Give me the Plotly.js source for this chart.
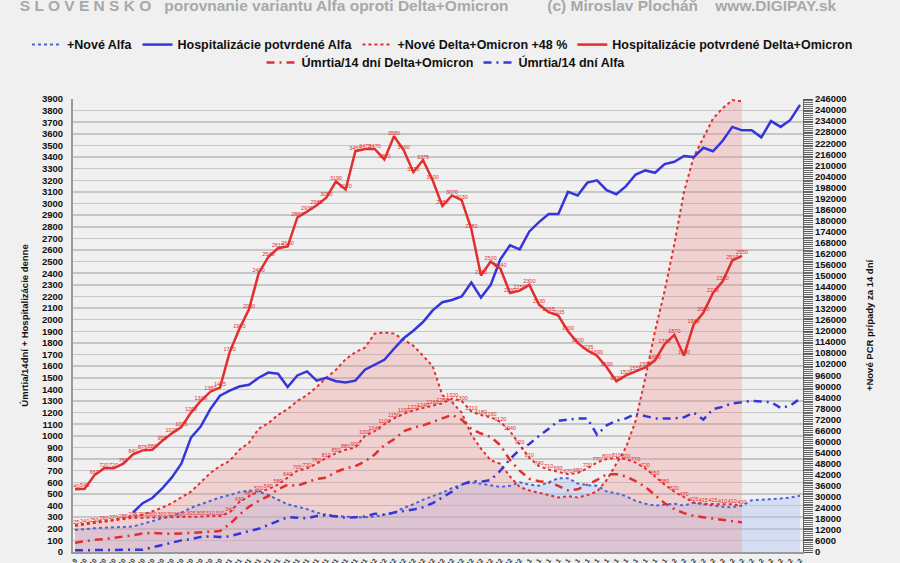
<!DOCTYPE html>
<html>
<head>
<meta charset="utf-8">
<script src="https://cdn.plot.ly/plotly-3.0.1.min.js"></script>
<style>html,body{margin:0;padding:0;background:#f0f0f0;}#chart{width:900px;height:563px;}</style>
</head>
<body>
<div id="chart"></div>
<script>
// Category labels (dates, 2-day steps)
const categories = ["30.9","2.10","4.10","6.10","8.10","10.10","12.10","14.10","16.10","18.10",
"20.10","22.10","24.10","26.10","28.10","30.10","1.11","3.11","5.11","7.11",
"9.11","11.11","13.11","15.11","17.11","19.11","21.11","23.11","25.11","27.11",
"29.11","1.12","3.12","5.12","7.12","9.12","11.12","13.12","15.12","17.12",
"19.12","21.12","23.12","25.12","27.12","29.12","31.12","2.1","4.1","6.1",
"8.1","10.1","12.1","14.1","16.1","18.1","20.1","22.1","24.1","26.1",
"28.1","30.1","1.2","3.2","5.2","7.2","9.2","11.2","13.2","15.2",
"17.2","19.2","21.2","23.2","25.2","27.2"];

// +Nové Alfa (PCR cases per 14 days, right axis)
const noveAlfa = [12000,12600,12900,13200,13200,13600,13900,15100,16700,18300,
19600,21400,24000,25900,27800,29600,30900,32500,33400,32800,
30900,28400,25900,24600,23300,21400,20200,19600,19200,18900,
18900,19200,20200,21400,24000,25900,28400,30300,32200,34700,
36600,37800,37200,36300,35300,36000,37800,36600,36000,37800,
40100,40100,37200,36300,36000,32800,31900,30300,27800,26200,
25200,25900,26200,25200,26800,25900,25200,24600,24300,25200,
28100,28400,28400,29000,29600,30600];

// Hospitalizácie potvrdené Alfa (left axis)
const hospAlfa = [null,null,null,null,null,null,340,420,465,545,
640,760,985,1080,1230,1345,1390,1425,1440,1500,
1545,1535,1420,1520,1555,1475,1500,1470,1460,1475,
1570,1610,1655,1750,1840,1905,1980,2080,2150,2170,
2200,2320,2190,2300,2520,2640,2605,2760,2840,2910,
2910,3100,3070,3180,3200,3115,3080,3150,3250,3285,
3265,3340,3360,3410,3400,3480,3450,3540,3660,3630,
3630,3570,3710,3660,3720,3850];

// +Nové Delta+Omicron +48 % (PCR cases per 14 days, right axis)
const noveDO = [14500,15500,16400,17000,17700,18300,19600,20200,22100,24000,
26500,29600,32800,37800,42900,46700,49500,55500,59300,66900,
70000,74400,77600,82000,85200,89600,94600,99000,104700,108500,
111000,118600,119200,118600,115400,112000,106600,100900,85200,81400,
75700,63700,56100,49800,47900,41000,35300,33400,32200,30900,
29600,30300,29600,30900,32800,39100,47900,56800,71300,94600,
119900,141900,167200,195500,214500,224600,235300,241000,245400,244700];

// Hospitalizácie potvrdené Delta+Omicron (left axis)
const hospDO = [540,545,660,720,720,760,840,875,880,955,
1020,1075,1200,1300,1380,1415,1720,1920,2090,2400,
2540,2615,2630,2880,2930,2985,3050,3190,3120,3450,
3470,3470,3380,3580,3460,3270,3375,3200,2980,3070,
3030,2780,2380,2500,2440,2230,2250,2300,2130,2065,
2035,1900,1800,1735,1690,1590,1470,1520,1555,1590,
1650,1790,1870,1690,1960,2060,2230,2330,2510,2550];

// Úmrtia/14 dní Delta+Omicron (left axis)
const umrtiaDO = [80,95,105,110,120,135,145,160,165,160,
155,160,165,175,180,180,240,320,390,440,
480,540,580,570,600,630,640,690,720,740,
780,840,920,970,1040,1070,1090,1120,1150,1180,
1140,1060,1020,990,920,790,700,630,610,600,
570,530,540,580,620,670,670,650,610,560,
490,420,370,335,310,300,290,280,265,255];

// Úmrtia/14 dní Alfa (left axis)
const umrtiaAlfa = [15,15,15,15,15,15,15,20,40,60,
85,100,110,130,135,130,135,160,180,200,
235,270,300,295,290,310,315,305,295,300,
305,330,320,340,350,365,385,420,470,520,
580,610,605,620,700,800,880,930,1000,1060,
1130,1140,1150,1150,1010,1090,1130,1150,1190,1170,
1150,1150,1150,1160,1200,1140,1230,1250,1280,1290,
1300,1295,1290,1240,1260,1320];

// Labelled Delta+Omicron dotted series (no legend entry)
const labelDO = [225,240,250,260,270,285,295,295,300,300,
300,300,305,305,310,310,340,430,480,520,
540,580,640,700,720,760,810,850,880,900,
1000,1040,1100,1150,1190,1220,1240,1260,1280,1320,
1300,1210,1180,1160,1120,1040,920,810,740,710,
690,670,680,720,770,800,810,800,770,720,
650,580,520,470,425,415,415,410,410,400];

const RED = '#e42d2d', BLUE = '#3535dc';
const catsDO = categories.slice(0, hospDO.length);
const dashDot = '8px,5px,2px,5px';

const traces = [
  // area fills (no legend)
  {x: categories, y: noveAlfa, yaxis: 'y', type: 'scatter', mode: 'lines', showlegend: false, hoverinfo: 'skip',
   line: {width: 0, color: 'rgba(0,0,0,0)'}, fill: 'tozeroy', fillcolor: 'rgba(175,195,245,0.42)'},
  {x: catsDO, y: noveDO, yaxis: 'y', type: 'scatter', mode: 'lines', showlegend: false, hoverinfo: 'skip',
   line: {width: 0, color: 'rgba(0,0,0,0)'}, fill: 'tozeroy', fillcolor: 'rgba(240,140,140,0.30)'},
  // legend row 1
  {x: categories, y: noveAlfa, yaxis: 'y', type: 'scatter', mode: 'lines', name: '+Nové Alfa',
   line: {color: '#4a64d8', width: 2, dash: 'dot'}, legend: 'legend'},
  {x: categories, y: hospAlfa, yaxis: 'y2', type: 'scatter', mode: 'lines', name: 'Hospitalizácie potvrdené Alfa',
   line: {color: BLUE, width: 2.5}, legend: 'legend'},
  {x: catsDO, y: noveDO, yaxis: 'y', type: 'scatter', mode: 'lines', name: '+Nové Delta+Omicron +48 %',
   line: {color: RED, width: 2, dash: 'dot'}, legend: 'legend'},
  {x: catsDO, y: hospDO, yaxis: 'y2', type: 'scatter', mode: 'lines', name: 'Hospitalizácie potvrdené Delta+Omicron',
   line: {color: RED, width: 2.5}, legend: 'legend'},
  // legend row 2
  {x: catsDO, y: umrtiaDO, yaxis: 'y2', type: 'scatter', mode: 'lines', name: 'Úmrtia/14 dní Delta+Omicron',
   line: {color: RED, width: 2.5, dash: dashDot}, legend: 'legend2'},
  {x: categories, y: umrtiaAlfa, yaxis: 'y2', type: 'scatter', mode: 'lines', name: 'Úmrtia/14 dní Alfa',
   line: {color: BLUE, width: 2.5, dash: dashDot}, legend: 'legend2'},
  // labelled dotted series and value labels
  {x: catsDO, y: labelDO, yaxis: 'y2', type: 'scatter', mode: 'lines', showlegend: false,
   line: {color: RED, width: 2, dash: 'dot'}},
  {x: catsDO, y: hospDO, yaxis: 'y2', type: 'scatter', mode: 'text', showlegend: false, hoverinfo: 'skip',
   text: hospDO.map(String), textposition: 'top center', textfont: {size: 5.5, color: RED}},
  {x: catsDO, y: labelDO, yaxis: 'y2', type: 'scatter', mode: 'text', showlegend: false, hoverinfo: 'skip',
   text: labelDO.map(String), textposition: 'top center', textfont: {size: 5.5, color: RED}}
];

const NB = '\u00a0';
const titleText = 'S L O V E N S K O' + NB.repeat(3) + 'porovnanie variantu Alfa oproti Delta+Omicron' +
  NB.repeat(9) + '(c) Miroslav Plocháň' + NB.repeat(4) + 'www.DIGIPAY.sk';

const legendFont = {family: 'Liberation Sans, Arial, sans-serif', size: 12.5, color: '#111', weight: 'bold'};

const layout = {
  width: 900, height: 563,
  paper_bgcolor: '#f0f0f0', plot_bgcolor: '#f0f0f0',
  margin: {l: 73, r: 97, t: 99, b: 11, autoexpand: false},
  font: {family: 'Liberation Sans, Arial, sans-serif', color: '#111'},
  title: {text: titleText, x: 0.022, xanchor: 'left', xref: 'container', y: 1, yref: 'container', yanchor: 'top',
          pad: {t: 0, b: 0, l: 0, r: 0}, font: {size: 15.5, color: '#a8a8a8', weight: 'bold'}},
  showlegend: true,
  legend: {orientation: 'h', x: 1.0753, xanchor: 'right', y: 1.1193, yanchor: 'middle',
           font: legendFont, bgcolor: 'rgba(0,0,0,0)'},
  legend2: {orientation: 'h', x: 0.511, xanchor: 'center', y: 1.0795, yanchor: 'middle',
            font: legendFont, bgcolor: 'rgba(0,0,0,0)'},
  xaxis: {type: 'category', range: [-0.207, 75.31], showgrid: false, zeroline: false,
          showline: true, linecolor: '#9a9a9a', linewidth: 2, tickangle: -55, dtick: 1, ticks: '',
          tickfont: {size: 6.5, color: '#333', weight: 'bold'}, automargin: false},
  yaxis: {side: 'right', range: [1, 246000], tick0: 6000, dtick: 6000, tickformat: 'd', showgrid: false, zeroline: false,
          ticks: 'outside', ticklen: 9, tickcolor: '#555', tickwidth: 1,
          minor: {dtick: 1000, ticks: 'outside', ticklen: 9, tickcolor: '#6a6a6a', tickwidth: 1, showgrid: false},
          showline: true, linecolor: '#666', linewidth: 1,
          tickfont: {size: 9.5, color: '#111', weight: 'bold'},
          title: {text: '+Nové PCR prípady za 14 dní', font: {size: 9.5, weight: 'bold', color: '#111'}, standoff: 20},
          automargin: false},
  yaxis2: {overlaying: 'y', side: 'left', range: [0, 3900], dtick: 100, showgrid: true, gridcolor: '#c6c6c6', gridwidth: 1.5,
           zeroline: false, showline: true, linecolor: '#9a9a9a', linewidth: 2, ticks: '', ticklabelstandoff: 6,
           tickfont: {size: 9.5, color: '#111', weight: 'bold'},
           title: {text: 'Úmrtia/14dní + Hospitalizácie denne', font: {size: 9.5, weight: 'bold', color: '#111'}, standoff: 12},
           automargin: false}
};

Plotly.newPlot('chart', traces, layout, {displayModeBar: false, staticPlot: true});
</script>
</body>
</html>
